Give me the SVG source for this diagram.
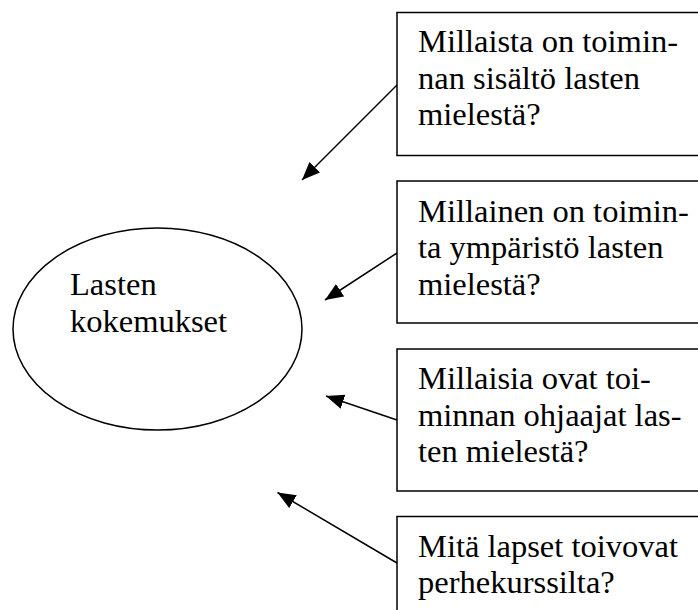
<svg xmlns="http://www.w3.org/2000/svg" width="698" height="610" viewBox="0 0 698 610">
<defs>
<marker id="ah" markerUnits="userSpaceOnUse" markerWidth="22" markerHeight="18" refX="18" refY="7.5" orient="auto">
<path d="M0,0 L18,7.5 L0,15 Z" fill="#000"/>
</marker>
<style>
.box{fill:#fff;stroke:#000;stroke-width:1.5}
.t{font-family:"Liberation Serif","Times New Roman",serif;font-size:32.5px;fill:#000}
.c{stroke:#000;stroke-width:1.5;fill:none;marker-end:url(#ah)}
</style>
</defs>
<rect width="698" height="610" fill="#fff"/>
<g id="center">
<ellipse cx="157.5" cy="329" rx="144.5" ry="101" fill="#fff" stroke="#000" stroke-width="1.5"/>
<text class="t" x="70" y="295">Lasten</text>
<text class="t" x="70" y="332">kokemukset</text>
</g>
<g id="q1">
<rect class="box" x="397" y="12.5" width="320" height="143"/>
<text class="t" x="418" y="52">Millaista on toimin-</text>
<text class="t" x="418" y="88.5">nan sisältö lasten</text>
<text class="t" x="418" y="125">mielestä?</text>
</g>
<g id="q2">
<rect class="box" x="397" y="181" width="320" height="142"/>
<text class="t" x="418" y="221.5">Millainen on toimin-</text>
<text class="t" x="418" y="258">ta ympäristö lasten</text>
<text class="t" x="418" y="294.5">mielestä?</text>
</g>
<g id="q3">
<rect class="box" x="397" y="349" width="320" height="142"/>
<text class="t" x="418" y="389">Millaisia ovat toi-</text>
<text class="t" x="418" y="425.5">minnan ohjaajat las-</text>
<text class="t" x="418" y="462">ten mielestä?</text>
</g>
<g id="q4">
<rect class="box" x="397" y="516.5" width="320" height="120"/>
<text class="t" x="418" y="556.5">Mitä lapset toivovat</text>
<text class="t" x="418" y="593">perhekurssilta?</text>
</g>
<g id="connectors">
<line class="c" x1="397" y1="85" x2="302" y2="180"/>
<line class="c" x1="397" y1="253" x2="325" y2="300"/>
<line class="c" x1="397" y1="420" x2="326" y2="396"/>
<line class="c" x1="397" y1="563" x2="277.5" y2="492.5"/>
</g>
</svg>
